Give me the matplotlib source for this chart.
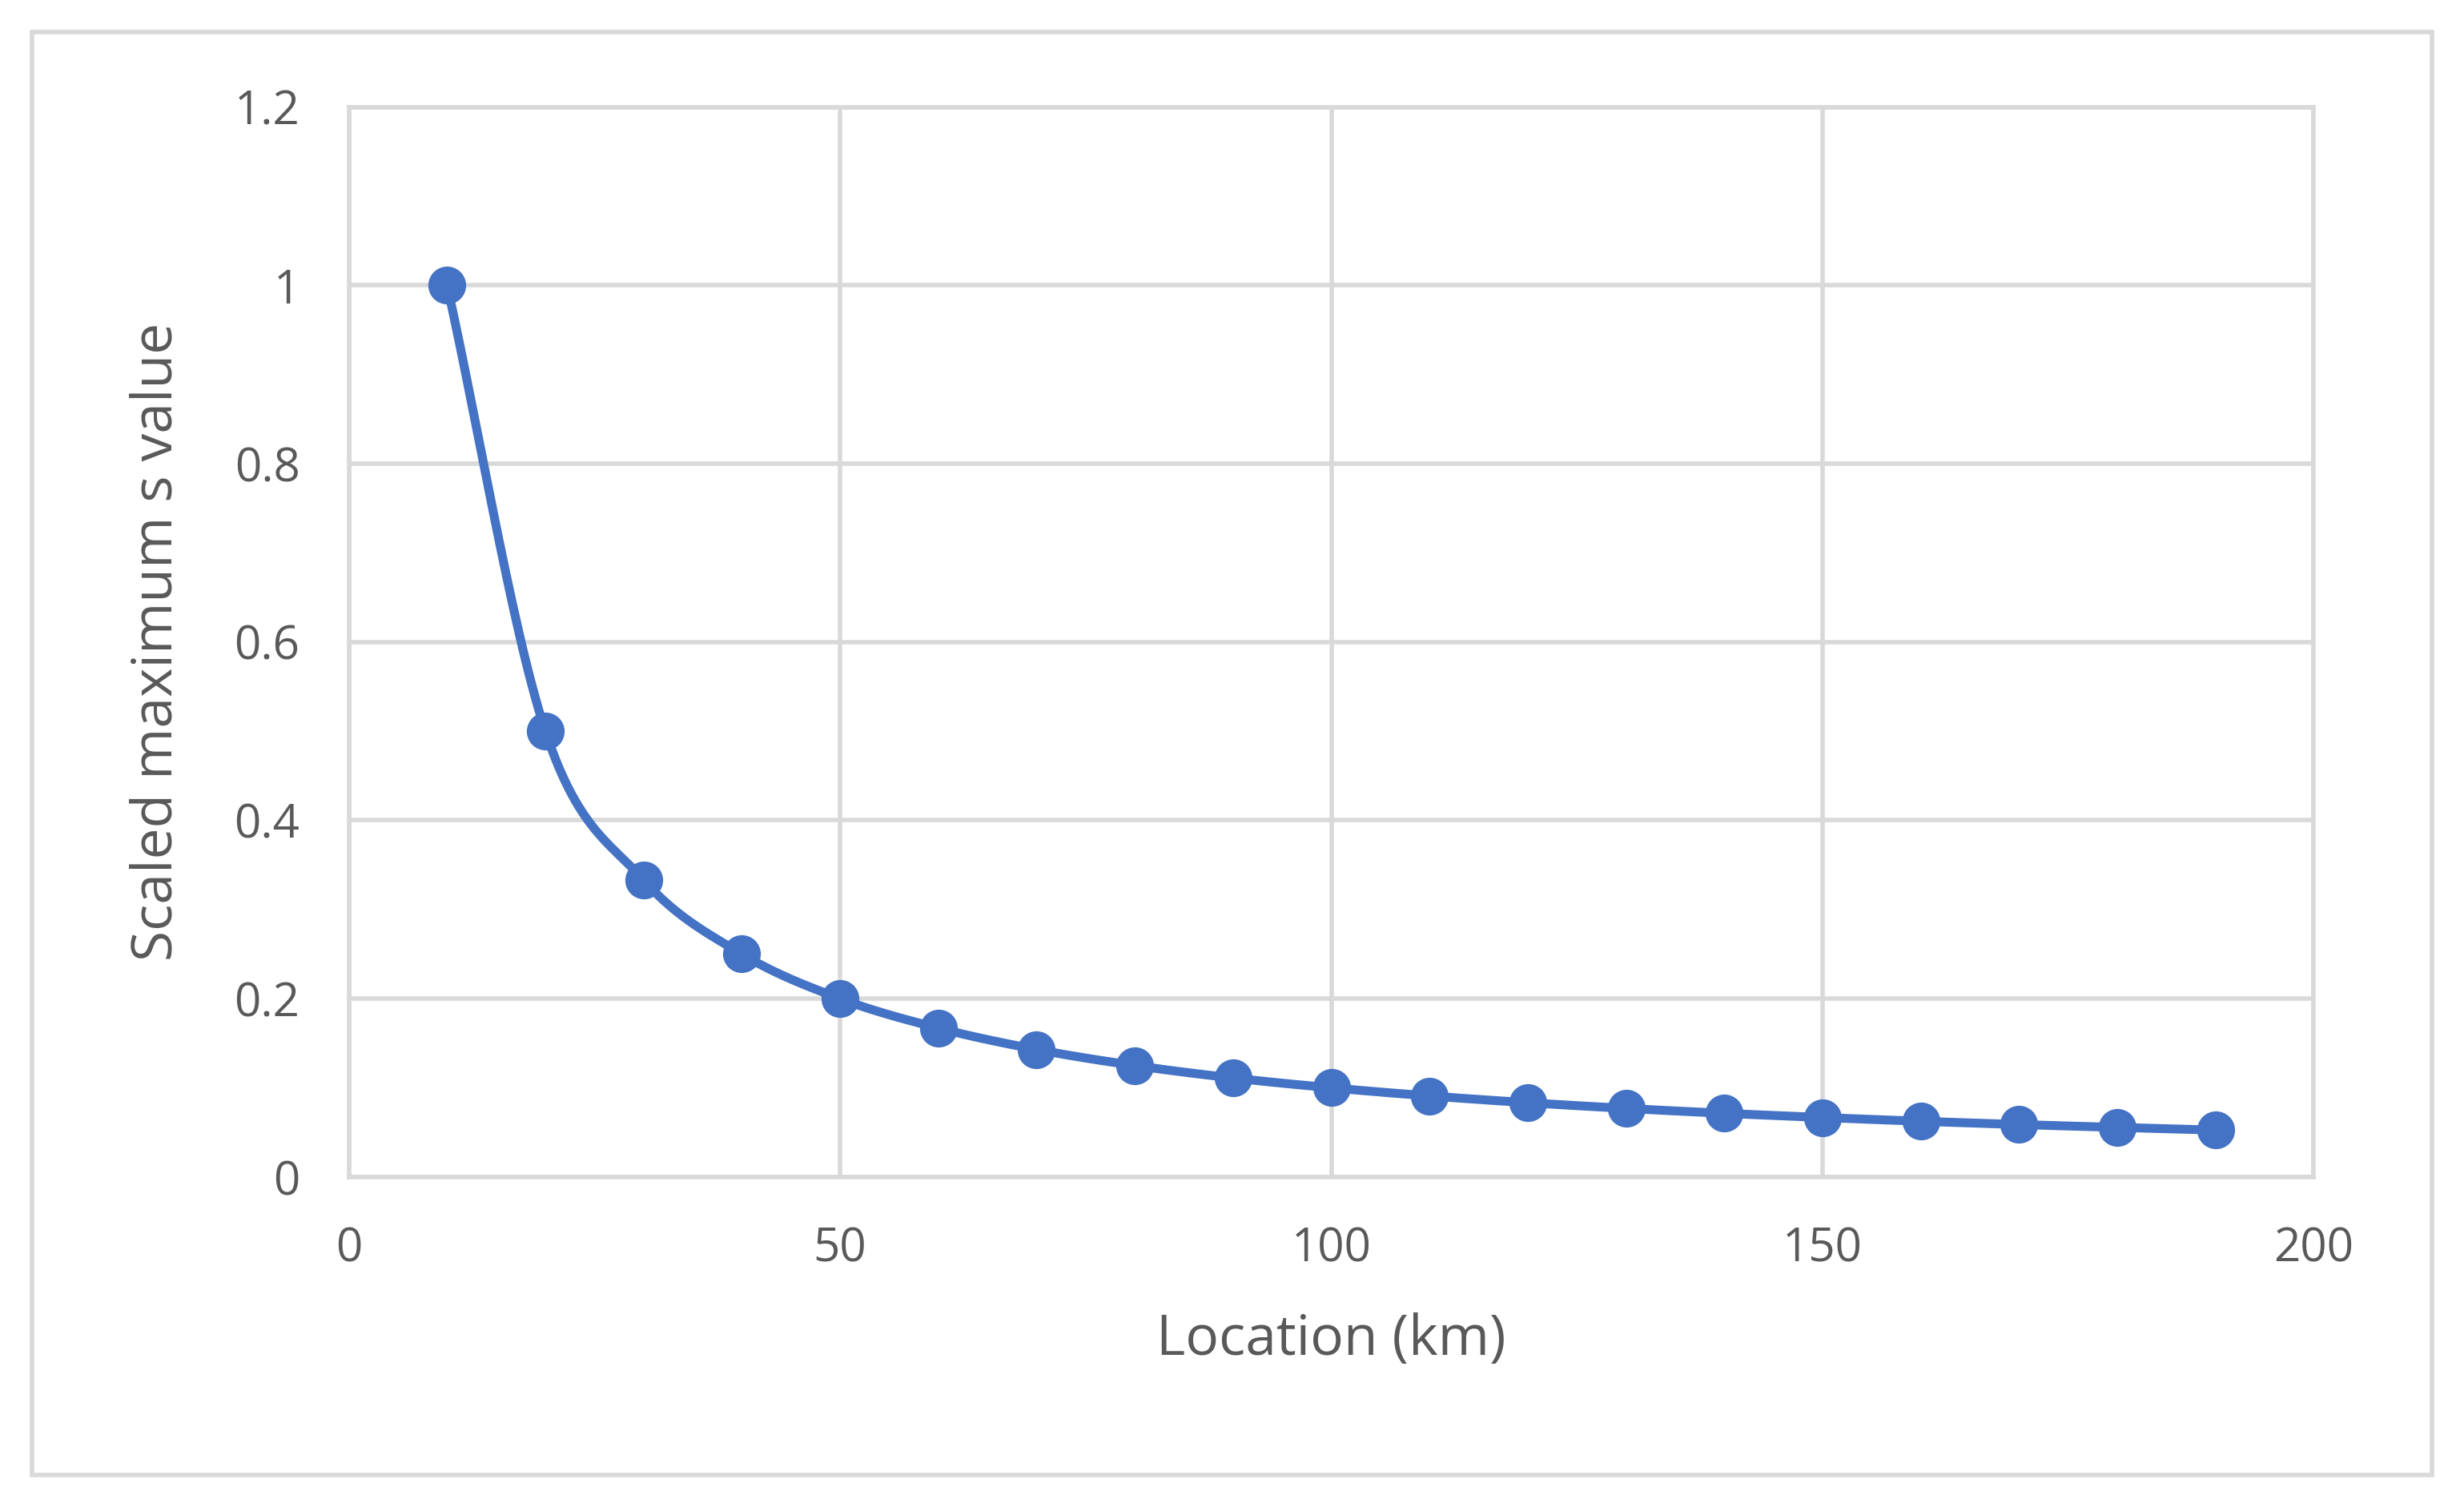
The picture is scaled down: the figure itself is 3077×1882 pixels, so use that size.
import numpy as np
import matplotlib
matplotlib.use("Agg")
import matplotlib.pyplot as plt
from matplotlib.patches import Rectangle

location_km = [10, 20, 30, 40, 50, 60, 70, 80, 90, 100, 110, 120, 130, 140, 150, 160, 170, 180, 190]
scaled_max_s = [1.0, 0.5, 0.333, 0.25, 0.2, 0.167, 0.143, 0.125, 0.111, 0.1, 0.0909, 0.0833,
                0.0769, 0.0714, 0.0667, 0.0625, 0.0588, 0.0556, 0.0526]
x_ticks = [0, 50, 100, 150, 200]
y_ticks = [0, 0.2, 0.4, 0.6, 0.8, 1, 1.2]
y_labels = ["0", "0.2", "0.4", "0.6", "0.8", "1", "1.2"]

def catmull_rom(xs, ys, n=30):
    xs = np.asarray(xs, float); ys = np.asarray(ys, float)
    px = np.concatenate([[2*xs[0]-xs[1]], xs, [2*xs[-1]-xs[-2]]])
    py = np.concatenate([[2*ys[0]-ys[1]], ys, [2*ys[-1]-ys[-2]]])
    ox, oy = [], []
    t = np.linspace(0, 1, n, endpoint=False)
    for i in range(1, len(px)-2):
        for p, o in ((px, ox), (py, oy)):
            p0, p1, p2, p3 = p[i-1], p[i], p[i+1], p[i+2]
            m1 = (p2 - p0) / 2; m2 = (p3 - p1) / 2
            h00 = 2*t**3 - 3*t**2 + 1; h10 = t**3 - 2*t**2 + t
            h01 = -2*t**3 + 3*t**2; h11 = t**3 - t**2
            o.extend(h00*p1 + h10*m1 + h01*p2 + h11*m2)
    ox.append(xs[-1]); oy.append(ys[-1])
    return ox, oy

plt.rcParams['font.family'] = ['Open Sans', 'DejaVu Sans']
fig = plt.figure(figsize=(15.385, 9.41), dpi=200)
fig.patches.append(Rectangle((0.013, 0.021), 0.974, 0.958, transform=fig.transFigure,
                             fill=False, edgecolor='#D9D9D9', linewidth=2))
ax = fig.add_axes([0.1416, 0.219, 0.7974, 0.71])
color = '#4472C4'
sx, sy = catmull_rom(location_km, scaled_max_s)
ax.plot(sx, sy, color=color, linewidth=4, zorder=3)
ax.plot(location_km, scaled_max_s, 'o', color=color, markersize=16, zorder=4)
ax.set_xlim(0, 200); ax.set_ylim(0, 1.2)
ax.set_xticks(x_ticks); ax.set_yticks(y_ticks); ax.set_yticklabels(y_labels)
ax.grid(True, color='#D9D9D9', linewidth=2)
ax.set_axisbelow(True)
for s in ax.spines.values():
    s.set_color('#D9D9D9'); s.set_linewidth(2)
ax.tick_params(length=0, labelsize=21, colors='#595959', pad=22)
ax.set_xlabel('Location (km)', fontsize=25, color='#595959', labelpad=18)
ax.set_ylabel('Scaled maximum s value', fontsize=25, color='#595959', labelpad=22)
fig.savefig('out.png', dpi=200)
